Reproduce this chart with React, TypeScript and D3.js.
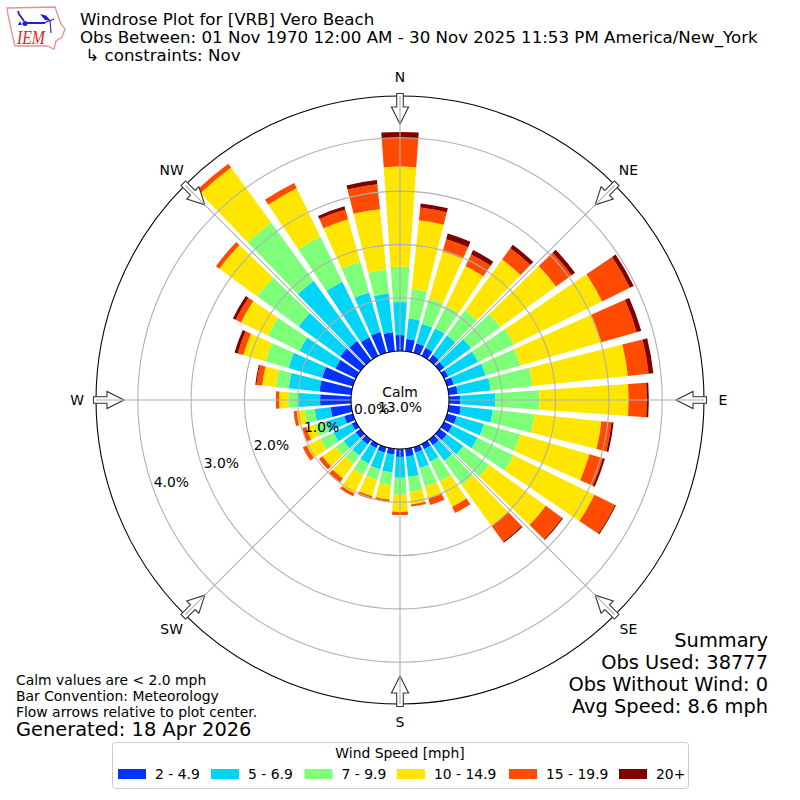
import React, { useEffect, useRef } from 'react';
import * as d3 from 'd3';

// percent of observations per 10 degree sector, starting at north, going clockwise
const directions = d3.range(0, 360, 10);
const bin2to5 = [.30, .23, .19, .17, .13, .11, .09, .13, .17, .21, .23, .19, .17, .17, .13, .11, .11, .15, .15, .11, .11, .09, .11, .11, .09, .17, .39, .58, .60, .60, .43, .47, .45, .39, .41, .36];
const bin5to7 = [.62, .39, .38, .41, .45, .62, .62, .62, .62, .66, .60, .53, .53, .38, .36, .26, .30, .38, .39, .34, .32, .32, .26, .28, .38, .36, .30, .41, .58, .66, .75, .96, 1.39, 1.16, .77, .73];
const bin7to10 = [.66, .56, .49, .47, .58, .68, .75, .68, .79, .83, .79, .71, .75, .60, .56, .41, .36, .28, .32, .24, .21, .23, .19, .19, .28, .21, .19, .19, .24, .45, .66, .96, 1.35, .94, .60, .45];
const bin10to15 = [1.88, 1.29, .92, .83, 1.18, 1.29, 1.84, 1.58, 1.80, 1.67, 1.26, 1.35, 1.69, 1.31, .96, .53, .23, .24, .32, .27, .32, .39, .34, .30, .28, .17, .15, .17, .26, .43, .56, .88, 1.28, 1.01, .83, 1.14];
const bin15to20 = [.54, .24, .24, .24, .26, .36, .58, .69, .39, .34, .19, .26, .43, .38, .36, .13, .13, .04, .06, .05, .06, .06, .09, .08, .08, .08, .06, .06, .11, .11, .11, .08, .09, .11, .19, .47];
const bin20plus = [.11, .08, .11, .09, .08, .08, .08, .09, .09, .04, .04, .04, .02, .02, .02, 0, 0, 0, 0, 0, 0, 0, 0, 0, 0, 0, 0, 0, .02, .06, .06, 0, 0, 0, .06, .08];

const series = [bin2to5, bin5to7, bin7to10, bin10to15, bin15to20, bin20plus];
const speedLabels = ['2 - 4.9', '5 - 6.9', '7 - 9.9', '10 - 14.9', '15 - 19.9', '20+'];
const speedColors = ['#0033ff', '#00d5f7', '#7dff7a', '#ffe600', '#ff4a00', '#800000'];
const legendX = [118, 211, 304.5, 397, 509, 619];

const compass = ['N', 'NE', 'E', 'SE', 'S', 'SW', 'W', 'NW'];
const compassDy = [5, 3, 4.5, 6, 4, 6, 4.5, 3];
const radialTicks = [0, 1, 2, 3, 4];

const titleLines = [
	'Windrose Plot for [VRB] Vero Beach',
	'Obs Between: 01 Nov 1970 12:00 AM - 30 Nov 2025 11:53 PM America/New_York',
	' \u21b3 constraints: Nov',
];
const summaryLines = ['Summary', 'Obs Used: 38777', 'Obs Without Wind: 0', 'Avg Speed: 8.6 mph'];
const noteLines = ['Calm values are < 2.0 mph', 'Bar Convention: Meteorology', 'Flow arrows relative to plot center.'];

const font = '"DejaVu Sans", sans-serif';

const App: React.FC = () => {
	const svgRef = useRef<SVGSVGElement | null>(null);

	useEffect(() => {
		if (svgRef.current == null) return;

		const cx = 400;
		const cy = 400;
		const outer = 304;
		const hole = 49;
		const barWidth = (8 * Math.PI) / 180;

		const r = d3.scaleLinear().domain([0, 1]).range([hole, hole + 53.3]);
		const angle = d3.scaleLinear().domain([0, 360]).range([0, 2 * Math.PI]);

		const svg = d3.select(svgRef.current);
		svg.selectAll('*').remove();
		svg.attr('width', 800).attr('height', 800)
			.style('position', 'absolute').style('left', 0).style('top', 0)
			.style('font-family', font);

		const polar = svg.append('g').attr('transform', `translate(${cx},${cy})`);

		// stacked wedges
		const rows = directions.map((d, i) => {
			const row: Record<string, number> = { direction: d };
			series.forEach((s, k) => { row[speedLabels[k]] = s[i]; });
			return row;
		});
		const stacked = d3.stack<Record<string, number>>().keys(speedLabels)(rows);
		const arc = d3.arc();

		stacked.forEach((layer, k) => {
			polar.append('g')
				.selectAll('path')
				.data(layer)
				.join('path')
				.attr('fill', speedColors[k])
				.attr('d', (d: any) => {
					const a = angle(d.data.direction);
					return arc({
						innerRadius: r(d[0]),
						outerRadius: r(d[1]),
						startAngle: a - barWidth / 2,
						endAngle: a + barWidth / 2,
					});
				});
		});

		// rings go over the bars
		polar.append('g')
			.attr('fill', 'none').attr('stroke', '#b0b0b0').attr('stroke-width', 1.1)
			.selectAll('circle')
			.data(radialTicks.slice(1))
			.join('circle')
			.attr('r', d => r(d));

		polar.append('circle').attr('r', outer).attr('fill', 'none').attr('stroke', '#000').attr('stroke-width', 1.1);

		// flow arrows, drawn pointing down from north then rotated
		const arrow = d3.line()([
			[-3.3, -306.5], [3.3, -306.5], [3.3, -293], [8.6, -293], [0, -276], [-8.6, -293], [-3.3, -293],
		]) + 'Z';
		polar.append('g')
			.selectAll('path')
			.data(compass)
			.join('path')
			.attr('d', arrow)
			.attr('transform', (_, i) => `rotate(${i * 45})`)
			.attr('fill', '#fff')
			.attr('stroke', '#333')
			.attr('stroke-width', 1.1);

		// spokes show through the arrows
		polar.append('g')
			.attr('stroke', '#b0b0b0').attr('stroke-width', 1.1)
			.selectAll('line')
			.data(compass)
			.join('line')
			.attr('x1', (_, i) => hole * Math.sin(angle(i * 45)))
			.attr('y1', (_, i) => -hole * Math.cos(angle(i * 45)))
			.attr('x2', (_, i) => outer * Math.sin(angle(i * 45)))
			.attr('y2', (_, i) => -outer * Math.cos(angle(i * 45)));

		polar.append('circle').attr('r', hole).attr('fill', '#fff').attr('stroke', '#000').attr('stroke-width', 1.1);

		polar.append('g')
			.selectAll('text')
			.data(compass)
			.join('text')
			.attr('x', (_, i) => 323 * Math.sin(angle(i * 45)))
			.attr('y', (_, i) => -323 * Math.cos(angle(i * 45)) + compassDy[i])
			.attr('text-anchor', 'middle')
			.attr('font-size', 13.9)
			.text(d => d);

		const labelAngle = angle(250);
		polar.append('g')
			.selectAll('text')
			.data(radialTicks)
			.join('text')
			.attr('x', d => r(d) * Math.sin(labelAngle))
			.attr('y', d => -r(d) * Math.cos(labelAngle) - 3)
			.attr('font-size', 13.9)
			.text(d => `${d.toFixed(1)}%`);

		polar.append('text').attr('y', -3).attr('text-anchor', 'middle').attr('font-size', 13.9).text('Calm');
		polar.append('text').attr('y', 12).attr('text-anchor', 'middle').attr('font-size', 13.9).text('13.0%');

		// header
		svg.append('g')
			.selectAll('text')
			.data(titleLines)
			.join('text')
			.attr('x', 80)
			.attr('y', (_, i) => 25 + i * 18)
			.attr('font-size', 16.67)
			.attr('xml:space', 'preserve')
			.style('white-space', 'pre')
			.text(d => d);

		// logo
		const logo = svg.append('g');
		logo.append('path')
			.attr('d', 'M7,8 L55,7 L57,13 L61,24 L65,29 L62,37 L56,41 L54,49 L47,46 L15,46 L13,38 L10,24 L8,15 Z')
			.attr('fill', 'none').attr('stroke', '#e89090').attr('stroke-width', 1.3);
		logo.append('path')
			.attr('d', 'M18,11 L19,14 L24,21 M26,23 L45,23')
			.attr('fill', 'none').attr('stroke', '#2222cc').attr('stroke-width', 1.8);
		logo.append('path')
			.attr('d', 'M45,22.5 L54,19 M50,20 L51,33')
			.attr('fill', 'none').attr('stroke', '#2222cc').attr('stroke-width', 1.1);
		logo.append('path')
			.attr('d', 'M40,14 L46,15.5 L51,21 L45,20 Z M18,25 L20,21 L22,25 Z')
			.attr('fill', '#2222cc');
		logo.append('circle').attr('cx', 25).attr('cy', 23.5).attr('r', 2.5).attr('fill', '#2222cc');
		logo.append('text')
			.attr('x', 17).attr('y', 44)
			.attr('font-family', '"Liberation Serif", serif')
			.attr('font-style', 'italic')
			.attr('font-size', 18)
			.attr('textLength', 28)
			.attr('lengthAdjust', 'spacingAndGlyphs')
			.attr('fill', '#d22')
			.text('IEM');

		// summary
		svg.append('g')
			.selectAll('text')
			.data(summaryLines)
			.join('text')
			.attr('x', 768)
			.attr('y', (_, i) => 647 + i * 22)
			.attr('text-anchor', 'end')
			.attr('font-size', 19.4)
			.text(d => d);

		// notes
		svg.append('g')
			.selectAll('text')
			.data(noteLines)
			.join('text')
			.attr('x', 16)
			.attr('y', (_, i) => 685 + i * 16)
			.attr('font-size', 13.9)
			.text(d => d);
		svg.append('text').attr('x', 16).attr('y', 736).attr('font-size', 19.4).text('Generated: 18 Apr 2026');

		// legend
		const legend = svg.append('g');
		legend.append('rect')
			.attr('x', 112.5).attr('y', 742.5).attr('width', 576).attr('height', 46).attr('rx', 3)
			.attr('fill', '#fff').attr('stroke', '#ccc');
		legend.append('text')
			.attr('x', 400).attr('y', 758).attr('text-anchor', 'middle').attr('font-size', 13.9)
			.text('Wind Speed [mph]');
		speedLabels.forEach((label, k) => {
			legend.append('rect')
				.attr('x', legendX[k]).attr('y', 769).attr('width', 28).attr('height', 10)
				.attr('fill', speedColors[k]);
			legend.append('text')
				.attr('x', legendX[k] + 37).attr('y', 779).attr('font-size', 13.9)
				.text(label);
		});
	}, []);

	return <svg ref={svgRef}></svg>;
};

export default App;
